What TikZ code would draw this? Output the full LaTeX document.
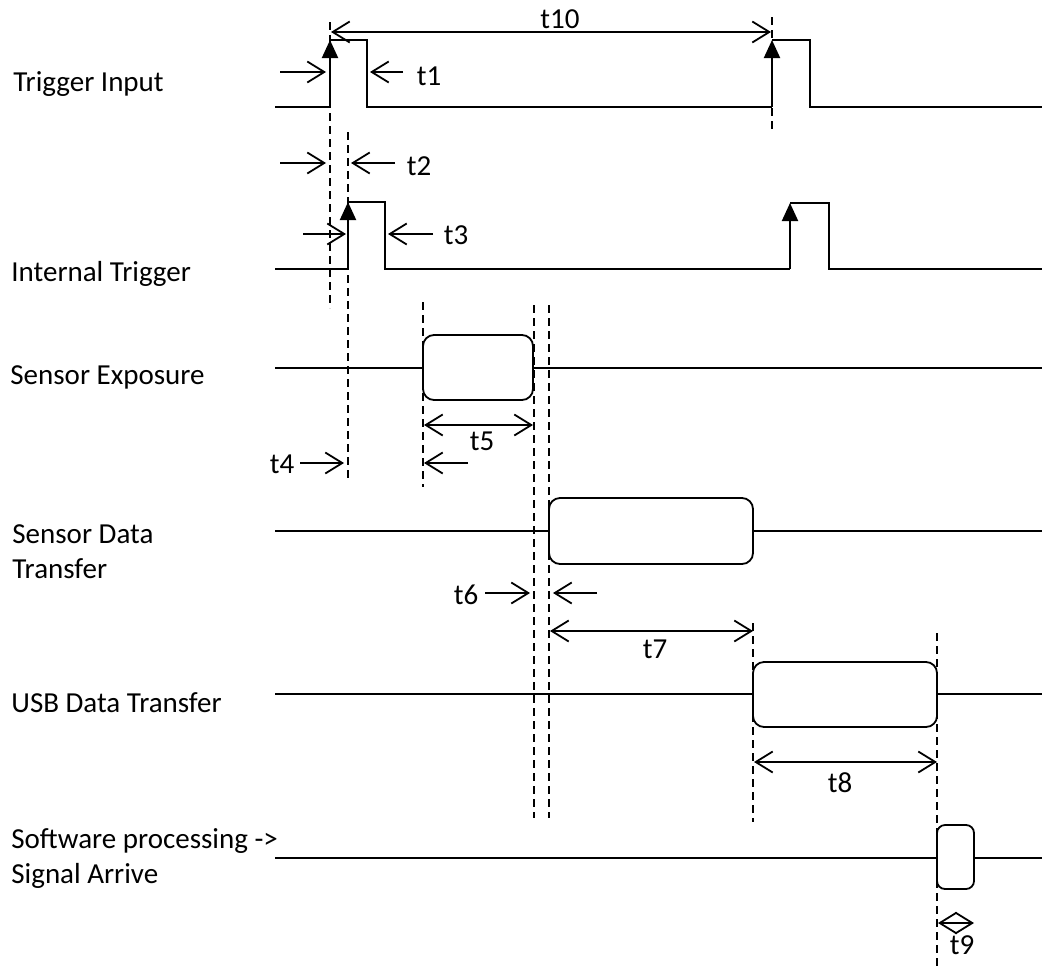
\documentclass[tikz,border=0pt]{standalone}
\usepackage{fontspec}
\setmainfont{Carlito}
\usetikzlibrary{arrows.meta}

\tikzset{
  sig/.style={line width=1pt, line join=miter},
  rise/.style={sig, -{Triangle[length=9pt,width=8pt]}},
  guide/.style={line width=1pt, dash pattern=on 4pt off 2.5pt},
  tmark/.style={line width=0.9pt, -{Straight Barb[length=8.5pt,width=10.5pt]}},
  tspan/.style={line width=0.9pt,
    {Straight Barb[length=8.5pt,width=10.5pt]}-{Straight Barb[length=8.5pt,width=10.5pt]}},
  busy/.style={line width=0.9pt, fill=white, rounded corners=5.5pt},
  rowlabel/.style={anchor=base west, inner sep=0pt, align=left},
  tlabel/.style={anchor=base, inner sep=0pt},
}

\begin{document}
\begin{tikzpicture}[x=0.5pt, y=-0.5pt, font=\fontsize{14.5}{17.5}\selectfont]

  \useasboundingbox (0,0) rectangle (1042,969);

  % Row labels
  \node[rowlabel] (trig-in)  at (13,91)  {Trigger Input}; %
  \node[rowlabel] (trig-int) at (11,281) {Internal Trigger}; %
  \node[rowlabel] (expo)     at (10,384) {Sensor Exposure}; %
  \node[rowlabel] (sdt)      at (12,578) {Sensor Data\\Transfer}; %
  \node[rowlabel] (usb)      at (11,712) {USB Data Transfer}; %
  \node[rowlabel] (sw)       at (11,883) {Software processing ->\\Signal Arrive}; %

  % Trigger Input
  \draw[sig]  (275,107) -- (330,107); %
  \draw[rise] (330,107) -- (330,40); %
  \draw[sig]  (330,40) -- (367,40) -- (367,107) -- (772,107); %
  \draw[rise] (772,107) -- (772,40); %
  \draw[sig]  (772,40) -- (810,40) -- (810,107) -- (1042,107); %

  % Internal Trigger
  \draw[sig]  (275,269) -- (348,269); %
  \draw[rise] (348,269) -- (348,202); %
  \draw[sig]  (348,202) -- (385,202) -- (385,269) -- (790,269); %
  \draw[rise] (790,269) -- (790,203); %
  \draw[sig]  (790,203) -- (829,203) -- (829,269) -- (1042,269); %

  % Busy phases
  \draw[sig]  (275,368) -- (1042,368); %
  \draw[busy] (423,335) rectangle (533,400); %
  \draw[sig]  (275,531) -- (1042,531); %
  \draw[busy] (549,498) rectangle (753,564); %
  \draw[sig]  (275,694) -- (1042,694); %
  \draw[busy] (753,662) rectangle (937,727); %
  \draw[sig]  (275,858) -- (1042,858); %
  \draw[busy, rounded corners=4pt] (937,825) rectangle (974,889); %

  % Guide lines
  \foreach \x/\ya/\yb in {330/22/308, 348/132/482, 423/302/487, %
      534/305/818, 549/305/818, 753/623/822, 937/633/969, 772/17/130}
    \draw[guide] (\x,\ya) -- (\x,\yb); %

  % Timing marks
  \coordinate (t10-a) at (331,32);  \coordinate (t10-b) at (771,32); %
  \coordinate (t1-a)  at (280,72);  \coordinate (t1-b)  at (326,72); %
  \coordinate (t1-c)  at (403,72);  \coordinate (t1-d)  at (370,72); %
  \coordinate (t2-a)  at (280,163); \coordinate (t2-b)  at (326,163); %
  \coordinate (t2-c)  at (395,163); \coordinate (t2-d)  at (351,163); %
  \coordinate (t3-a)  at (303,234); \coordinate (t3-b)  at (346,234); %
  \coordinate (t3-c)  at (433,234); \coordinate (t3-d)  at (388,234); %
  \coordinate (t4-a)  at (300,463); \coordinate (t4-b)  at (344,463); %
  \coordinate (t5-c)  at (468,463); \coordinate (t5-d)  at (424,463); %
  \coordinate (t5-a)  at (424,425); \coordinate (t5-b)  at (533,425); %
  \coordinate (t6-a)  at (485,593); \coordinate (t6-b)  at (530,593); %
  \coordinate (t6-c)  at (597,593); \coordinate (t6-d)  at (553,593); %
  \coordinate (t7-a)  at (550,631); \coordinate (t7-b)  at (753,631); %
  \coordinate (t8-a)  at (754,762); \coordinate (t8-b)  at (937,762); %
  \coordinate (t9-a)  at (938,923); \coordinate (t9-b)  at (974,923); %

  \draw[tspan] (t10-a) -- (t10-b); %
  \draw[tmark] (t1-a) -- (t1-b); %
  \draw[tmark] (t1-c) -- (t1-d); %
  \draw[tmark] (t2-a) -- (t2-b); %
  \draw[tmark] (t2-c) -- (t2-d); %
  \draw[tmark] (t3-a) -- (t3-b); %
  \draw[tmark] (t3-c) -- (t3-d); %
  \draw[tmark] (t4-a) -- (t4-b); %
  \draw[tmark] (t5-c) -- (t5-d); %
  \draw[tspan] (t5-a) -- (t5-b); %
  \draw[tmark] (t6-a) -- (t6-b); %
  \draw[tmark] (t6-c) -- (t6-d); %
  \draw[tspan] (t7-a) -- (t7-b); %
  \draw[tspan] (t8-a) -- (t8-b); %
  \draw[tspan] (t9-a) -- (t9-b); %

  % Timing labels
  \node[tlabel] (l10) at (560,28)  {t10}; %
  \node[tlabel] (l1)  at (429,85)  {t1}; %
  \node[tlabel] (l2)  at (419,175) {t2}; %
  \node[tlabel] (l3)  at (456,244) {t3}; %
  \node[tlabel] (l4)  at (282,473) {t4}; %
  \node[tlabel] (l5)  at (482,450) {t5}; %
  \node[tlabel] (l6)  at (466,604) {t6}; %
  \node[tlabel] (l7)  at (655,658) {t7}; %
  \node[tlabel] (l8)  at (840,792) {t8}; %
  \node[tlabel] (l9)  at (962,954) {t9}; %

\end{tikzpicture}
\end{document}
